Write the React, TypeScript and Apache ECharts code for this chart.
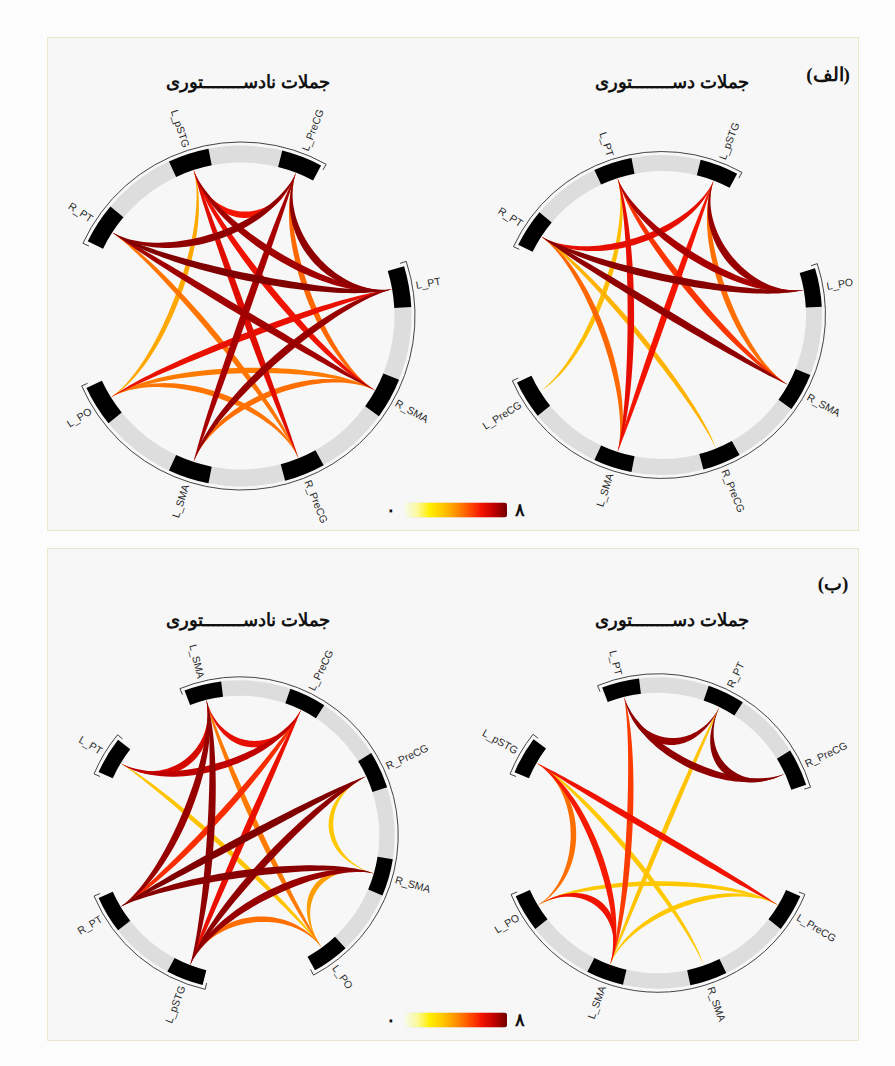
import React, { useEffect, useRef } from 'react';
import * as echarts from 'echarts';

// ---------------- data ----------------
// node names and their compass angles (degrees, clockwise from top)
const topLeftNodes = ['L_pSTG', 'L_PreCG', 'L_PT', 'R_SMA', 'R_PreCG', 'L_SMA', 'L_PO', 'R_PT'];
const topLeftAngles = [342, 21, 80, 119, 158, 198, 238, 303];
const topLeftGroups = [['R_PT', 'L_PreCG'], ['L_PT', 'L_PO']];
const topLeftLinks: [string, string, number][] = [
  ['R_PT', 'L_PreCG', 7.6],
  ['R_PT', 'L_PT', 7.8],
  ['R_PT', 'R_SMA', 7.4],
  ['R_PT', 'R_PreCG', 4.5],
  ['L_pSTG', 'L_PT', 7.4],
  ['L_pSTG', 'R_SMA', 6.1],
  ['L_pSTG', 'R_PreCG', 6.4],
  ['L_pSTG', 'L_PO', 3.6],
  ['L_pSTG', 'L_PreCG', 6.0],
  ['L_PreCG', 'L_PT', 7.6],
  ['L_PreCG', 'R_SMA', 4.7],
  ['L_PreCG', 'L_SMA', 7.3],
  ['L_PT', 'L_PO', 6.2],
  ['L_PT', 'L_SMA', 7.5],
  ['L_PO', 'R_SMA', 4.4],
  ['L_PO', 'R_PreCG', 4.5],
  ['L_SMA', 'R_SMA', 4.6],
];

const topRightNodes = ['L_PT', 'L_pSTG', 'L_PO', 'R_SMA', 'R_PreCG', 'L_SMA', 'L_PreCG', 'R_PT'];
const topRightAngles = [342, 21, 80, 119, 158, 198, 238, 303];
const topRightGroups = [['R_PT', 'L_pSTG'], ['L_PO', 'L_PreCG']];
const topRightLinks: [string, string, number][] = [
  ['R_PT', 'L_PO', 7.7],
  ['R_PT', 'R_SMA', 7.6],
  ['L_pSTG', 'L_PO', 7.5],
  ['L_PT', 'L_PO', 7.3],
  ['R_PT', 'L_pSTG', 6.3],
  ['L_pSTG', 'R_SMA', 4.6],
  ['L_PT', 'R_SMA', 5.5],
  ['L_PT', 'L_SMA', 6.3],
  ['L_pSTG', 'L_SMA', 6.0],
  ['L_PT', 'L_PreCG', 3.2],
  ['R_PT', 'L_SMA', 4.7],
  ['R_PT', 'R_PreCG', 3.4],
];

const bottomLeftNodes = ['L_SMA', 'L_PreCG', 'R_PreCG', 'R_SMA', 'L_PO', 'L_pSTG', 'R_PT', 'L_PT'];
const bottomLeftAngles = [346, 26, 65, 106, 144, 201, 239, 301];
const bottomLeftGroups = [['L_PT', 'L_PT'], ['L_SMA', 'L_PO'], ['L_pSTG', 'R_PT']];
const bottomLeftLinks: [string, string, number][] = [
  ['L_PT', 'L_SMA', 6.6],
  ['L_PT', 'L_PreCG', 7.0],
  ['L_PT', 'L_PO', 3.1],
  ['L_SMA', 'L_PreCG', 6.3],
  ['L_SMA', 'L_pSTG', 7.6],
  ['L_SMA', 'R_PT', 7.5],
  ['L_SMA', 'L_PO', 4.4],
  ['L_PreCG', 'L_pSTG', 6.2],
  ['L_PreCG', 'R_PT', 5.6],
  ['R_PreCG', 'R_PT', 7.8],
  ['R_PreCG', 'L_pSTG', 7.6],
  ['R_PreCG', 'R_SMA', 3.0],
  ['R_SMA', 'R_PT', 7.7],
  ['R_SMA', 'L_pSTG', 7.5],
  ['R_SMA', 'L_PO', 3.8],
  ['L_pSTG', 'L_PO', 4.6],
];

const bottomRightNodes = ['L_PT', 'R_PT', 'R_PreCG', 'L_PreCG', 'R_SMA', 'L_SMA', 'L_PO', 'L_pSTG'];
const bottomRightAngles = [346, 26, 65, 121, 161, 200, 239, 300];
const bottomRightGroups = [['L_PT', 'R_PreCG'], ['L_PreCG', 'L_PO'], ['L_pSTG', 'L_pSTG']];
const bottomRightLinks: [string, string, number][] = [
  ['L_PT', 'R_PreCG', 7.6],
  ['L_PT', 'R_PT', 7.5],
  ['R_PT', 'R_PreCG', 7.7],
  ['L_PT', 'L_SMA', 5.4],
  ['R_PT', 'L_SMA', 3.1],
  ['L_pSTG', 'L_PreCG', 6.1],
  ['L_pSTG', 'L_PO', 4.6],
  ['L_pSTG', 'L_SMA', 5.9],
  ['L_pSTG', 'R_SMA', 3.0],
  ['L_PO', 'L_PreCG', 3.0],
  ['L_SMA', 'L_PreCG', 3.0],
  ['L_PO', 'L_SMA', 6.1],
];

const valueRange = [0, 8];
const colorbarTicks = ['۸', '۰'];
const colorStops = ['#f4fbee', '#fbf9a0', '#ffee00', '#ffc800', '#ff9400', '#ff5500', '#f51400', '#c00000', '#700000'];
const titleGrammatical = 'جملات دســــــــتوری';
const titleUngrammatical = 'جملات نادســــــــتوری';
const panelLabels = ['(الف)', '(ب)'];

// ---------------- layout ----------------
const PANELS = [
  { nodes: topLeftNodes, angles: topLeftAngles, groups: topLeftGroups, links: topLeftLinks, cx: 241, cy: 316, r: 162 },
  { nodes: topRightNodes, angles: topRightAngles, groups: topRightGroups, links: topRightLinks, cx: 662, cy: 315, r: 152 },
  { nodes: bottomLeftNodes, angles: bottomLeftAngles, groups: bottomLeftGroups, links: bottomLeftLinks, cx: 240, cy: 835, r: 147 },
  { nodes: bottomRightNodes, angles: bottomRightAngles, groups: bottomRightGroups, links: bottomRightLinks, cx: 658, cy: 833, r: 148 },
];
const EXT = 1.35;
const HT = 0.0525; // half ring thickness (data units)
const BW = 7; // half block width (deg)
const K = 0.6; // bezier control factor

const rad = (d: number) => (d * Math.PI) / 180;
const phi = (d: number) => rad(d - 90);

function buildOption() {
  const grid: any[] = [];
  const xAxis: any[] = [];
  const yAxis: any[] = [];
  const series: any[] = [];
  const linkSeriesIdx: number[] = [];

  PANELS.forEach((p, pi) => {
    const size = 2 * EXT * p.r;
    grid.push({ left: p.cx - EXT * p.r, top: p.cy - EXT * p.r, width: size, height: size });
    xAxis.push({ gridIndex: pi, type: 'value', min: -EXT, max: EXT, show: false });
    yAxis.push({ gridIndex: pi, type: 'value', min: -EXT, max: EXT, show: false });
    const ang = (n: string) => p.angles[p.nodes.indexOf(n)];

    // ring arcs per group
    const groupData = p.groups.map(([s, e]) => {
      const a = ang(s) - BW;
      let b = ang(e) + BW;
      while (b < a) b += 360;
      return [a, b];
    });
    series.push({
      type: 'custom',
      xAxisIndex: pi,
      yAxisIndex: pi,
      silent: true,
      data: groupData,
      renderItem: (params: any, api: any) => {
        const s = api.value(0);
        const e = api.value(1);
        const c = api.coord([0, 0]);
        const u = api.size([1, 0])[0];
        const ri = u * (1 - HT);
        const ro = u * (1 + HT);
        const rl = ro + 3.5;
        const s2 = s - 1.3;
        const e2 = e + 1.3;
        const hook = (d: number) => ({
          type: 'line',
          shape: {
            x1: c[0] + rl * Math.sin(rad(d)),
            y1: c[1] - rl * Math.cos(rad(d)),
            x2: c[0] + (ro - 3) * Math.sin(rad(d)),
            y2: c[1] - (ro - 3) * Math.cos(rad(d)),
          },
          style: { stroke: '#444', lineWidth: 1 },
        });
        return {
          type: 'group',
          children: [
            {
              type: 'sector',
              shape: { cx: c[0], cy: c[1], r0: ri, r: ro, startAngle: phi(s), endAngle: phi(e), clockwise: true },
              style: { fill: '#dddddd' },
            },
            {
              type: 'arc',
              shape: { cx: c[0], cy: c[1], r: rl, startAngle: phi(s2), endAngle: phi(e2), clockwise: true },
              style: { stroke: '#444', lineWidth: 1, fill: 'none' },
            },
            hook(s2),
            hook(e2),
          ],
        };
      },
    });

    // node blocks + labels
    series.push({
      type: 'custom',
      xAxisIndex: pi,
      yAxisIndex: pi,
      silent: true,
      data: p.angles.map((a) => [a, 0]),
      renderItem: (params: any, api: any) => {
        const i = params.dataIndex;
        const deg = api.value(0);
        const c = api.coord([0, 0]);
        const u = api.size([1, 0])[0];
        const ri = u * (1 - HT);
        const ro = u * (1 + HT);
        const rl = ro + 7;
        const lx = c[0] + rl * Math.sin(rad(deg));
        const ly = c[1] - rl * Math.cos(rad(deg));
        const right = deg > 0 && deg < 180;
        const rot = right ? deg - 90 : deg - 270;
        const al = right ? 'left' : 'right';
        return {
          type: 'group',
          children: [
            {
              type: 'sector',
              shape: { cx: c[0], cy: c[1], r0: ri, r: ro, startAngle: phi(deg - BW), endAngle: phi(deg + BW), clockwise: true },
              style: { fill: '#000' },
            },
            {
              type: 'text',
              x: lx,
              y: ly,
              rotation: -rad(rot),
              style: {
                text: p.nodes[i],
                fill: '#2a2a2a',
                font: '10.5px "Liberation Sans", Arial, sans-serif',
                align: al,
                textAlign: al,
                verticalAlign: 'middle',
                textVerticalAlign: 'middle',
              },
            },
          ],
        };
      },
    });

    // links
    const linkData = p.links
      .map(([s, t, v]) => [ang(s), ang(t), v])
      .sort((a, b) => a[2] - b[2]);
    linkSeriesIdx.push(series.length);
    series.push({
      type: 'custom',
      xAxisIndex: pi,
      yAxisIndex: pi,
      silent: true,
      data: linkData,
      renderItem: (params: any, api: any) => {
        const a0 = api.value(0);
        const a1 = api.value(1);
        const v = api.value(2);
        const u = api.size([1, 0])[0];
        const re = 1 - HT;
        const p0 = [re * Math.sin(rad(a0)), re * Math.cos(rad(a0))];
        const p1 = [re * Math.sin(rad(a1)), re * Math.cos(rad(a1))];
        const c0 = [p0[0] * K, p0[1] * K];
        const c1 = [p1[0] * K, p1[1] * K];
        const dx = p1[0] - p0[0];
        const dy = p1[1] - p0[1];
        const len = Math.hypot(dx, dy) || 1;
        const nx = -dy / len;
        const ny = dx / len;
        const w = (3 + 0.55 * v) / u;
        const h = w / 1.5;
        const bez = (t: number, off: number) => {
          const m = 1 - t;
          const b0 = m * m * m;
          const b1 = 3 * m * m * t;
          const b2 = 3 * m * t * t;
          const b3 = t * t * t;
          const x = b0 * p0[0] + b1 * (c0[0] + nx * off) + b2 * (c1[0] + nx * off) + b3 * p1[0];
          const y = b0 * p0[1] + b1 * (c0[1] + ny * off) + b2 * (c1[1] + ny * off) + b3 * p1[1];
          return api.coord([x, y]);
        };
        const N = 48;
        const pts: number[][] = [];
        for (let k = 0; k <= N; k++) pts.push(bez(k / N, h));
        for (let k = N; k >= 0; k--) pts.push(bez(k / N, -h));
        return {
          type: 'polygon',
          shape: { points: pts },
          style: { fill: api.visual('color') },
        };
      },
    });
  });

  const titleFont = 'bold 18px "Liberation Serif", "DejaVu Serif", serif';
  const centered = { fill: '#111', textAlign: 'center', align: 'center', textVerticalAlign: 'middle', verticalAlign: 'middle' };
  const graphic: any[] = [
    { type: 'rect', shape: { x: 47.5, y: 37.5, width: 811, height: 493 }, style: { fill: '#f7f7f7', stroke: '#ebe5cc', lineWidth: 1 }, z: -10 },
    { type: 'rect', shape: { x: 47.5, y: 548.5, width: 811, height: 492 }, style: { fill: '#f7f7f7', stroke: '#ebe5cc', lineWidth: 1 }, z: -10 },
    { type: 'text', x: 248, y: 82, style: { ...centered, text: titleUngrammatical, font: titleFont } },
    { type: 'text', x: 672, y: 82, style: { ...centered, text: titleGrammatical, font: titleFont } },
    { type: 'text', x: 248, y: 620, style: { ...centered, text: titleUngrammatical, font: titleFont } },
    { type: 'text', x: 672, y: 620, style: { ...centered, text: titleGrammatical, font: titleFont } },
    { type: 'text', x: 828, y: 74, style: { ...centered, text: panelLabels[0], font: 'bold 19px "Liberation Serif", "DejaVu Serif", serif' } },
    { type: 'text', x: 833, y: 583, style: { ...centered, text: panelLabels[1], font: 'bold 19px "Liberation Serif", "DejaVu Serif", serif' } },
  ];

  const vm = (top: number, idx: number[]) => ({
    type: 'continuous',
    min: valueRange[0],
    max: valueRange[1],
    dimension: 2,
    seriesIndex: idx,
    orient: 'horizontal',
    left: 371,
    top,
    itemWidth: 15,
    itemHeight: 103,
    text: colorbarTicks,
    textGap: 8,
    calculable: false,
    hoverLink: false,
    inRange: { color: colorStops },
    textStyle: { color: '#111', fontSize: 18, fontWeight: 'bold', fontFamily: '"Liberation Serif", "DejaVu Serif", serif' },
  });

  return {
    animation: false,
    grid,
    xAxis,
    yAxis,
    series,
    graphic,
    visualMap: [vm(486, [linkSeriesIdx[0], linkSeriesIdx[1]]), vm(996, [linkSeriesIdx[2], linkSeriesIdx[3]])],
  };
}

export default function App() {
  const ref = useRef<HTMLDivElement>(null);
  useEffect(() => {
    if (!ref.current) return;
    const chart = echarts.init(ref.current, undefined, { renderer: 'svg' });
    chart.setOption(buildOption() as any);
    return () => chart.dispose();
  }, []);
  return (
    <div
      ref={ref}
      style={{ position: 'absolute', left: 0, top: 0, width: 895, height: 1066, background: '#fcfcfc' }}
    />
  );
}
